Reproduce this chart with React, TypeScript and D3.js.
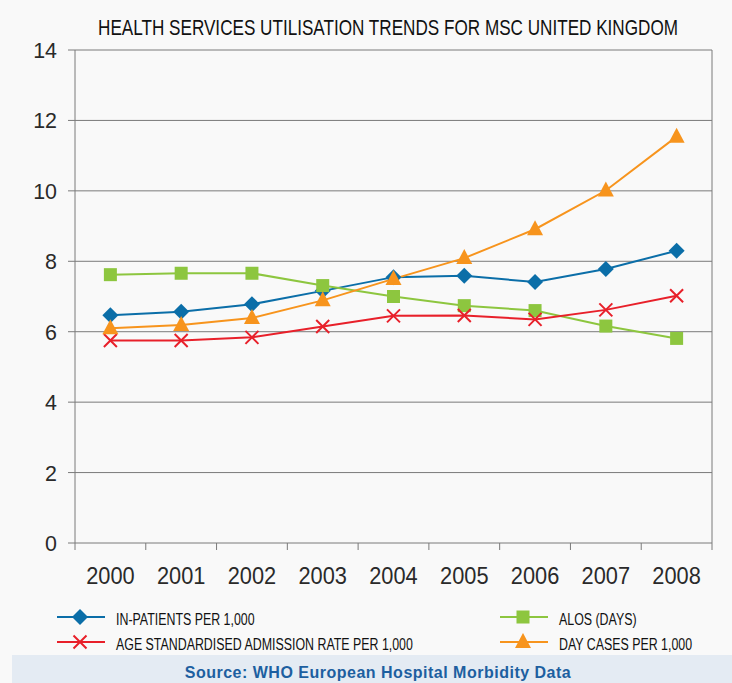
import React, { useEffect, useRef } from "react";
import * as d3 from "d3";

const years = ["2000", "2001", "2002", "2003", "2004", "2005", "2006", "2007", "2008"];
const inPatients = [6.47, 6.57, 6.78, 7.16, 7.55, 7.59, 7.41, 7.78, 8.3];
const alos = [7.62, 7.66, 7.66, 7.31, 7.0, 6.74, 6.6, 6.16, 5.81];
const admissionRate = [5.75, 5.75, 5.84, 6.15, 6.45, 6.46, 6.35, 6.62, 7.02];
const dayCases = [6.1, 6.19, 6.39, 6.89, 7.5, 8.09, 8.91, 10.01, 11.54];
const yTicks = [0, 2, 4, 6, 8, 10, 12, 14];

const series = [
  { name: "IN-PATIENTS PER 1,000", values: inPatients, color: "#0b6ea8", marker: "diamond" },
  { name: "ALOS (DAYS)", values: alos, color: "#8dc63f", marker: "square" },
  { name: "AGE STANDARDISED ADMISSION RATE PER 1,000", values: admissionRate, color: "#e8202a", marker: "cross" },
  { name: "DAY CASES PER 1,000", values: dayCases, color: "#f7941d", marker: "triangle" },
];

const W = 732;
const H = 683;
const FONT = "'Liberation Sans', Arial, sans-serif";

function drawMarker(g: any, type: string, x: number, y: number, color: string) {
  if (type === "diamond") {
    g.append("path")
      .attr("d", `M${x},${y - 8}L${x + 8},${y}L${x},${y + 8}L${x - 8},${y}Z`)
      .attr("fill", color);
  } else if (type === "square") {
    g.append("rect")
      .attr("x", x - 6.5).attr("y", y - 6.5)
      .attr("width", 13).attr("height", 13)
      .attr("fill", color);
  } else if (type === "triangle") {
    g.append("path")
      .attr("d", `M${x},${y - 9}L${x + 8},${y + 6}L${x - 8},${y + 6}Z`)
      .attr("fill", color);
  } else {
    g.append("path")
      .attr("d", `M${x - 6.5},${y - 6.5}L${x + 6.5},${y + 6.5}M${x + 6.5},${y - 6.5}L${x - 6.5},${y + 6.5}`)
      .attr("stroke", color)
      .attr("stroke-width", 2)
      .attr("fill", "none");
  }
}

// condensed text: regular font squeezed horizontally
function narrowText(parent: any, x: number, y: number, str: string, size: number, sx: number, anchor = "start", fill = "#111") {
  return parent.append("text")
    .attr("transform", `translate(${x},${y}) scale(${sx},1)`)
    .attr("text-anchor", anchor)
    .style("font-family", FONT)
    .style("font-size", `${size}px`)
    .attr("fill", fill)
    .text(str);
}

export default function App() {
  const svgRef = useRef<SVGSVGElement>(null);

  useEffect(() => {
    document.body.style.margin = "0";
    if (!svgRef.current) return;
    const svg = d3.select(svgRef.current);
    svg.selectAll("*").remove();

    const left = 75, right = 712, top = 50, bottom = 543;

    svg.append("rect").attr("width", W).attr("height", H).attr("fill", "#f9f9f9");

    const x = d3.scaleBand().domain(years).range([left, right]);
    const y = d3.scaleLinear().domain([0, 14]).range([bottom, top]);

    // title
    narrowText(svg, 388, 35, "HEALTH SERVICES UTILISATION TRENDS FOR MSC UNITED KINGDOM", 22.3, 0.768, "middle", "#111");

    // gridlines
    svg.append("g")
      .selectAll("line")
      .data(yTicks)
      .join("line")
      .attr("x1", left - 7).attr("x2", right)
      .attr("y1", (d) => y(d)).attr("y2", (d) => y(d))
      .attr("stroke", "#7a7a7a")
      .attr("stroke-width", 1);

    // axis frame
    svg.append("line").attr("x1", left).attr("x2", left).attr("y1", top).attr("y2", bottom + 7)
      .attr("stroke", "#7a7a7a");
    svg.append("line").attr("x1", right).attr("x2", right).attr("y1", top).attr("y2", bottom + 7)
      .attr("stroke", "#7a7a7a");

    // x tick marks at band boundaries
    svg.append("g")
      .selectAll("line")
      .data(years.slice(1))
      .join("line")
      .attr("x1", (d) => x(d)!).attr("x2", (d) => x(d)!)
      .attr("y1", bottom).attr("y2", bottom + 7)
      .attr("stroke", "#7a7a7a");

    // y labels
    const yg = svg.append("g");
    yTicks.forEach((t) => narrowText(yg, 57, y(t) + 8, String(t), 22.3, 0.96, "end", "#2a2a2a"));

    // x labels
    const xg = svg.append("g");
    years.forEach((yr) => narrowText(xg, x(yr)! + x.bandwidth() / 2, 584, yr, 23.7, 0.92, "middle", "#2a2a2a"));

    const cx = (i: number) => x(years[i])! + x.bandwidth() / 2;

    series.forEach((s) => {
      const line = d3.line<number>().x((_, i) => cx(i)).y((d) => y(d));
      svg.append("path")
        .datum(s.values)
        .attr("d", line)
        .attr("fill", "none")
        .attr("stroke", s.color)
        .attr("stroke-width", 2);
    });

    series.forEach((s) => {
      const g = svg.append("g");
      s.values.forEach((v, i) => drawMarker(g, s.marker, cx(i), y(v), s.color));
    });

    // legend
    const legendPos = [
      { x: 57, y: 617 },
      { x: 500, y: 617 },
      { x: 57, y: 642 },
      { x: 500, y: 642 },
    ];
    series.forEach((s, i) => {
      const p = legendPos[i];
      const g = svg.append("g");
      g.append("line")
        .attr("x1", p.x).attr("x2", p.x + 48)
        .attr("y1", p.y).attr("y2", p.y)
        .attr("stroke", s.color).attr("stroke-width", 2);
      drawMarker(g, s.marker, p.x + 23, p.y, s.color);
      narrowText(g, p.x + 59, p.y + 8, s.name, 16.8, 0.738, "start", "#111");
    });

    // source band
    svg.append("rect")
      .attr("x", 12).attr("y", 655).attr("width", W - 12).attr("height", H - 655)
      .attr("fill", "#e4ebf3");
    svg.append("text")
      .attr("x", 378).attr("y", 678)
      .attr("text-anchor", "middle")
      .style("font-family", FONT)
      .style("font-size", "16px")
      .style("font-weight", "bold")
      .style("letter-spacing", "0.5px")
      .attr("fill", "#1d5fa0")
      .text("Source: WHO European Hospital Morbidity Data");
  }, []);

  return <svg ref={svgRef} width={W} height={H} style={{ display: "block" }} />;
}
